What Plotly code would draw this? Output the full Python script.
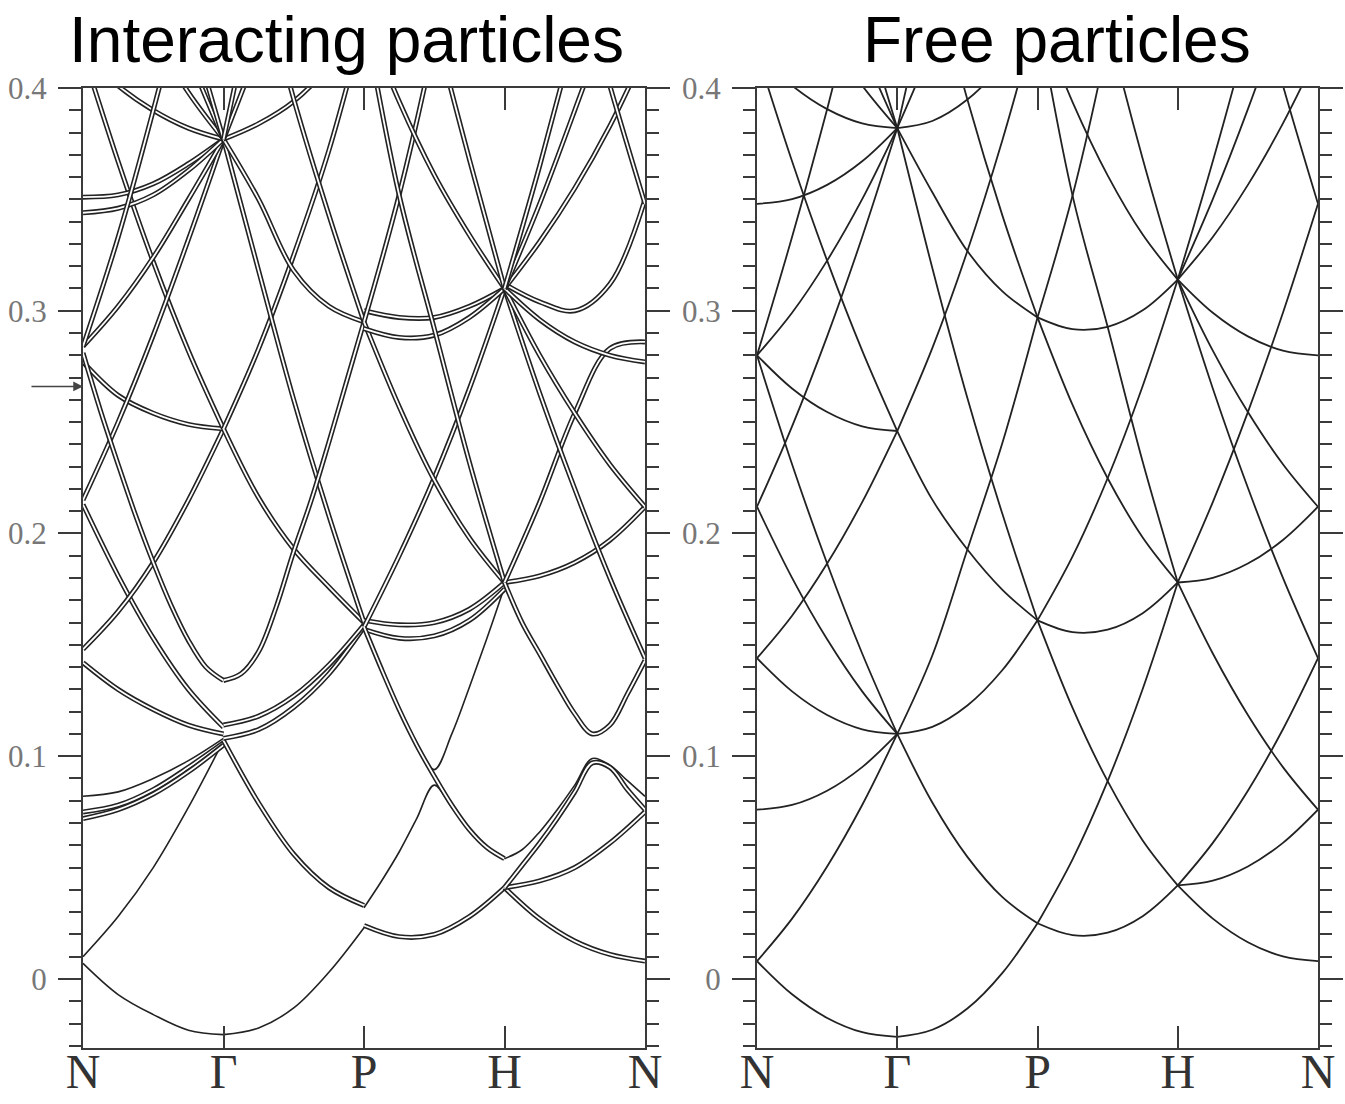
import plotly.graph_objects as go

W, H = 1345, 1104

# ---- path / axis data ----
t_samples = [0.0, 0.25, 0.5, 0.75, 1.0]          # coarse samples inside each path segment
t_fine = [0.0, 0.125, 0.25, 0.375, 0.5, 0.625, 0.75, 0.875, 1.0]   # finer samples (anticrossings)
sym_labels = ["N", "Γ", "P", "H", "N"]
sym_pos = [0, 1, 2, 3, 4]
y_ticks = [0, 0.1, 0.2, 0.3, 0.4]
y_ticktext = ["0", "0.1", "0.2", "0.3", "0.4"]
arrow_level = 0.266

# ---- free particles: band energies at t_samples, per path segment ----
free_N_G = [
    [0.008, -0.0069, -0.0175, -0.0239, -0.026],
    [0.008, 0.0271, 0.0505, 0.0781, 0.110],
    [0.076, 0.0781, 0.0845, 0.0951, 0.110],
    [0.144, 0.1291, 0.1185, 0.1121, 0.110],
    [0.212, 0.1801, 0.1525, 0.1291, 0.110],
    [0.280, 0.2311, 0.1865, 0.1461, 0.110],
    [0.144, 0.1631, 0.1865, 0.2141, 0.246],
    [0.280, 0.2651, 0.2545, 0.2481, 0.246],
    [0.416, 0.3671, 0.3225, 0.2821, 0.246],
    [0.212, 0.2481, 0.2885, 0.3331, 0.382],
    [0.280, 0.2991, 0.3225, 0.3501, 0.382],
    [0.348, 0.3501, 0.3565, 0.3671, 0.382],
    [0.416, 0.4011, 0.3905, 0.3841, 0.382],
    [0.484, 0.4520, 0.4245, 0.4011, 0.382],
    [0.552, 0.5030, 0.4585, 0.4180, 0.382],
    [0.620, 0.5540, 0.4925, 0.4350, 0.382],
    [0.280, 0.3331, 0.3905, 0.4520, 0.518],
]
free_G_P = [
    [-0.026, -0.0228, -0.0133, 0.0027, 0.025],
    [0.110, 0.0792, 0.0548, 0.0367, 0.025],
    [0.110, 0.1132, 0.1228, 0.1387, 0.161],
    [0.110, 0.1452, 0.1928, 0.2407, 0.297],
    [0.246, 0.2152, 0.1928, 0.1747, 0.161],
    [0.246, 0.2832, 0.3268, 0.3767, 0.433],
    [0.382, 0.3192, 0.2608, 0.2087, 0.161],
    [0.382, 0.3532, 0.3268, 0.3087, 0.297],
    [0.382, 0.3852, 0.3948, 0.4107, 0.433],
    [0.382, 0.4192, 0.4628, 0.5127, 0.569],
    [0.382, 0.4532, 0.5308, 0.6147, 0.705],
    [0.518, 0.4552, 0.3948, 0.3427, 0.297],
]
free_P_H = [
    [0.025, 0.0197, 0.0208, 0.0282, 0.042],
    [0.025, 0.0537, 0.0888, 0.1302, 0.178],
    [0.161, 0.1217, 0.0888, 0.0622, 0.042],
    [0.161, 0.1557, 0.1568, 0.1642, 0.178],
    [0.161, 0.1897, 0.2248, 0.2662, 0.314],
    [0.297, 0.2577, 0.2248, 0.1982, 0.178],
    [0.297, 0.2917, 0.2928, 0.3002, 0.314],
    [0.297, 0.3517, 0.4208, 0.5042, 0.586],
    [0.433, 0.3517, 0.2928, 0.2322, 0.178],
    [0.433, 0.3937, 0.3608, 0.3342, 0.314],
    [0.569, 0.4977, 0.4288, 0.3682, 0.314],
]
free_H_N = [
    [0.042, 0.0271, 0.0165, 0.0101, 0.008],
    [0.042, 0.0441, 0.0505, 0.0611, 0.076],
    [0.042, 0.0611, 0.0845, 0.1121, 0.144],
    [0.178, 0.1461, 0.1185, 0.0951, 0.076],
    [0.178, 0.1801, 0.1865, 0.1971, 0.212],
    [0.178, 0.2141, 0.2545, 0.2991, 0.348],
    [0.314, 0.2651, 0.2205, 0.1801, 0.144],
    [0.314, 0.2821, 0.2545, 0.2311, 0.212],
    [0.314, 0.2991, 0.2885, 0.2821, 0.280],
    [0.314, 0.3331, 0.3565, 0.3841, 0.416],
    [0.314, 0.3501, 0.3905, 0.4350, 0.484],
    [0.314, 0.3671, 0.4245, 0.4861, 0.552],
    [0.586, 0.5200, 0.4585, 0.4011, 0.348],
]

# ---- interacting particles, coarse samples ----
inter_N_G_single = [
    [0.007, -0.007, -0.016, -0.023, -0.025],
    [0.010, 0.028, 0.050, 0.077, 0.107],
    [0.082, 0.084, 0.090, 0.098, 0.108],
]
inter_N_G_double = [
    [0.075, 0.078, 0.085, 0.095, 0.106],
    [0.072, 0.076, 0.083, 0.093, 0.105],
    [0.142, 0.130, 0.121, 0.114, 0.110],
    [0.213, 0.181, 0.153, 0.130, 0.113],
    [0.148, 0.165, 0.187, 0.215, 0.247],
    [0.277, 0.262, 0.254, 0.249, 0.247],
    [0.416, 0.367, 0.322, 0.282, 0.247],
    [0.215, 0.250, 0.289, 0.332, 0.377],
    [0.284, 0.302, 0.324, 0.350, 0.377],
    [0.351, 0.352, 0.357, 0.366, 0.377],
    [0.344, 0.346, 0.352, 0.363, 0.377],
    [0.416, 0.401, 0.390, 0.382, 0.377],
    [0.484, 0.452, 0.424, 0.398, 0.377],
    [0.552, 0.503, 0.458, 0.415, 0.377],
    [0.620, 0.554, 0.492, 0.432, 0.377],
    [0.284, 0.333, 0.390, 0.452, 0.518],
]
inter_G_P_single = [
    [-0.025, -0.022, -0.013, 0.003, 0.023],
]
inter_G_P_double = [
    [0.107, 0.079, 0.056, 0.041, 0.033],
    [0.108, 0.112, 0.122, 0.137, 0.158],
    [0.114, 0.118, 0.127, 0.141, 0.159],
    [0.247, 0.216, 0.193, 0.176, 0.160],
    [0.247, 0.283, 0.325, 0.372, 0.430],
    [0.377, 0.318, 0.260, 0.208, 0.160],
    [0.377, 0.350, 0.318, 0.302, 0.295],
    [0.377, 0.384, 0.394, 0.410, 0.433],
    [0.377, 0.418, 0.462, 0.512, 0.569],
    [0.377, 0.452, 0.530, 0.614, 0.705],
    [0.518, 0.455, 0.395, 0.343, 0.295],
]
inter_P_H_single = []
inter_P_H_double = [
    [0.024, 0.019, 0.020, 0.028, 0.041],
    [0.161, 0.159, 0.160, 0.166, 0.178],
    [0.157, 0.153, 0.154, 0.161, 0.175],
    [0.158, 0.190, 0.225, 0.265, 0.310],
    [0.295, 0.257, 0.224, 0.198, 0.178],
    [0.300, 0.297, 0.297, 0.302, 0.310],
    [0.292, 0.288, 0.289, 0.297, 0.310],
    [0.295, 0.352, 0.421, 0.504, 0.587],
    [0.433, 0.352, 0.292, 0.232, 0.178],
    [0.433, 0.394, 0.361, 0.334, 0.310],
    [0.569, 0.498, 0.429, 0.368, 0.310],
]
inter_H_N_single = []
inter_H_N_double = [
    [0.041, 0.027, 0.017, 0.011, 0.008],
    [0.041, 0.044, 0.050, 0.061, 0.075],
    [0.178, 0.181, 0.187, 0.197, 0.212],
    [0.178, 0.214, 0.254, 0.283, 0.286],
    [0.310, 0.263, 0.220, 0.180, 0.144],
    [0.310, 0.280, 0.254, 0.231, 0.212],
    [0.310, 0.296, 0.286, 0.280, 0.277],
    [0.312, 0.304, 0.300, 0.312, 0.350],
    [0.310, 0.331, 0.355, 0.383, 0.416],
    [0.310, 0.348, 0.390, 0.434, 0.484],
    [0.310, 0.365, 0.424, 0.486, 0.552],
    [0.586, 0.520, 0.458, 0.401, 0.348],
]

# ---- interacting particles, fine samples (bands bending at anticrossings) ----
inter_fine_N_G_double = [
    [0.281, 0.255, 0.231, 0.208, 0.187, 0.168, 0.152, 0.140, 0.134],
]
inter_fine_G_P_double = [
    [0.134, 0.137, 0.147, 0.167, 0.192, 0.215, 0.241, 0.268, 0.295],
]
inter_fine_P_H_double = [
    [0.158, 0.139, 0.121, 0.105, 0.091, 0.078, 0.067, 0.059, 0.054],
]
inter_fine_P_H_single = [
    [0.032, 0.044, 0.057, 0.072, 0.087, 0.077, 0.067, 0.059, 0.054],
    [0.158, 0.139, 0.121, 0.106, 0.094, 0.110, 0.131, 0.153, 0.176],
]
inter_fine_H_N_double = [
    [0.178, 0.160, 0.146, 0.132, 0.119, 0.110, 0.114, 0.128, 0.143],
    [0.041, 0.051, 0.061, 0.072, 0.084, 0.097, 0.095, 0.085, 0.076],
]
inter_fine_H_N_single = [
    [0.054, 0.058, 0.066, 0.076, 0.087, 0.099, 0.096, 0.089, 0.082],
]

free_segments = [free_N_G, free_G_P, free_P_H, free_H_N]
inter_single = [inter_N_G_single, inter_G_P_single, inter_P_H_single, inter_H_N_single]
inter_double = [inter_N_G_double, inter_G_P_double, inter_P_H_double, inter_H_N_double]
inter_fine_double = [inter_fine_N_G_double, inter_fine_G_P_double,
                     inter_fine_P_H_double, inter_fine_H_N_double]
inter_fine_single = [[], [], inter_fine_P_H_single, inter_fine_H_N_single]

LINE = "#222222"
fig = go.Figure()


def seg_x(s, ts):
    return [sym_pos[s] + t for t in ts]


def add_single(xs, ys, xa, ya, width):
    fig.add_trace(go.Scatter(x=xs, y=ys, mode="lines", xaxis=xa, yaxis=ya,
                             line=dict(color=LINE, width=width, shape="spline"),
                             hoverinfo="skip", showlegend=False))


def add_double(xs, ys):
    fig.add_trace(go.Scatter(x=xs, y=ys, mode="lines", xaxis="x", yaxis="y",
                             line=dict(color=LINE, width=5.0, shape="spline"),
                             hoverinfo="skip", showlegend=False))
    fig.add_trace(go.Scatter(x=xs, y=ys, mode="lines", xaxis="x", yaxis="y",
                             line=dict(color="white", width=1.8, shape="spline"),
                             hoverinfo="skip", showlegend=False))


# left panel: interacting
for s in range(4):
    xc = seg_x(s, t_samples)
    xf = seg_x(s, t_fine)
    for band in inter_single[s]:
        add_single(xc, band, "x", "y", 1.6)
    for band in inter_fine_single[s]:
        add_single(xf, band, "x", "y", 1.6)
    for band in inter_double[s]:
        add_double(xc, band)
    for band in inter_fine_double[s]:
        add_double(xf, band)

# right panel: free
for s in range(4):
    xc = seg_x(s, t_samples)
    for band in free_segments[s]:
        add_single(xc, band, "x2", "y2", 1.8)

AX = "#3a3a3a"
xdomL = [83 / W, 645 / W]
xdomR = [757 / W, 1318 / W]
ydom = [1 - 1048 / H, 1 - 88 / H]
yrange = [-0.031, 0.4]


def xaxis(domain, anchor):
    return dict(domain=domain, anchor=anchor, range=[0, 4], tickmode="array",
                tickvals=sym_pos, ticktext=sym_labels, ticks="inside", ticklen=22,
                tickwidth=1.5, tickcolor=AX, showline=True, linecolor=AX, linewidth=2,
                mirror="ticks", showgrid=False, zeroline=False, automargin=False,
                ticklabelstandoff=-20,
                tickfont=dict(family="Liberation Serif, Times New Roman, serif", size=48, color="#333333"))


def yaxis(anchor):
    return dict(domain=ydom, anchor=anchor, range=yrange, tickmode="array", tickvals=y_ticks,
                ticktext=y_ticktext,
                ticks="outside", ticklen=23, tickwidth=1.5, tickcolor=AX,
                showline=True, linecolor=AX, linewidth=2, mirror="ticks",
                showgrid=False, zeroline=False, ticklabelstandoff=5, automargin=False,
                minor=dict(dtick=0.01, tick0=0, ticks="outside", ticklen=12, tickwidth=1.5,
                           tickcolor=AX, showgrid=False),
                tickfont=dict(family="Liberation Serif, Times New Roman, serif", size=31, color="#777777"))


fig.update_layout(
    width=W, height=H, margin=dict(l=0, r=0, t=0, b=0, autoexpand=False),
    paper_bgcolor="white", plot_bgcolor="white",
    xaxis=xaxis(xdomL, "y"), yaxis=yaxis("x"),
    xaxis2=xaxis(xdomR, "y2"), yaxis2=yaxis("x2"),
    annotations=[
        dict(text="Interacting particles", x=346 / W, y=1 - 40 / H, xref="paper", yref="paper",
             xanchor="center", yanchor="middle", showarrow=False,
             font=dict(family="Liberation Sans, Arial, sans-serif", size=64, color="black")),
        dict(text="Free particles", x=1057 / W, y=1 - 40 / H, xref="paper", yref="paper",
             xanchor="center", yanchor="middle", showarrow=False,
             font=dict(family="Liberation Sans, Arial, sans-serif", size=64, color="black")),
        dict(text="", x=0, y=arrow_level, xref="x", yref="y", showarrow=True,
             ax=-53, ay=0, arrowhead=2, arrowsize=1.3, arrowwidth=1.5, arrowcolor="#444444",
             standoff=0),
    ],
)

fig.write_html("out.html")
